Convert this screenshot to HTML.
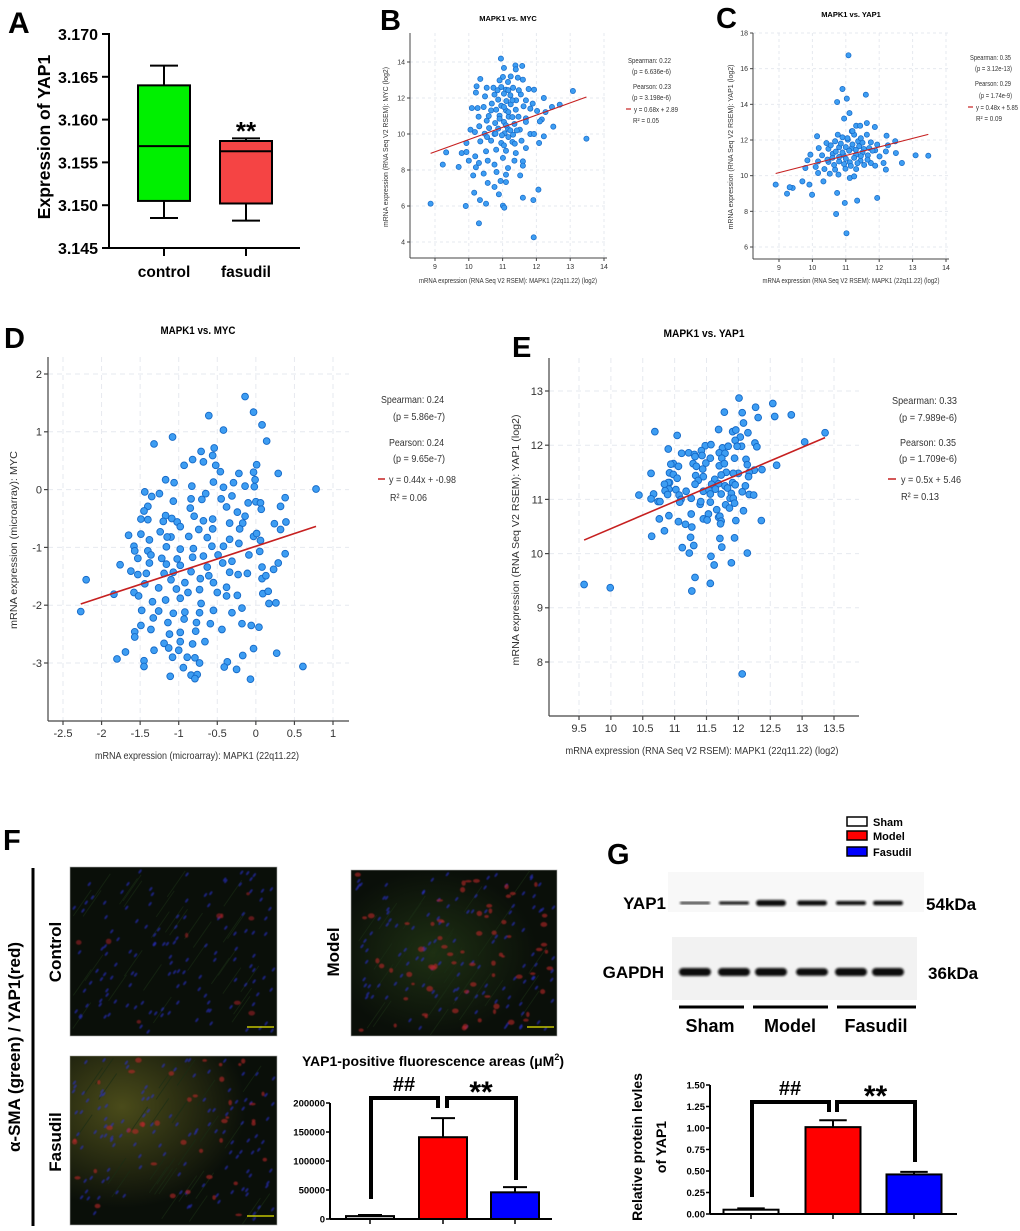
<!DOCTYPE html>
<html><head><meta charset="utf-8"><title>MAPK1 / YAP1 figure</title>
<style>
html,body{margin:0;padding:0;background:#fff;}
svg{display:block;font-family:"Liberation Sans",Arial,sans-serif;}
.b{font-weight:bold;}
</style></head>
<body>
<svg id="fig" width="1020" height="1231" viewBox="0 0 1020 1231" xmlns="http://www.w3.org/2000/svg">
<defs>
<filter id="blur1" x="-20%" y="-50%" width="140%" height="200%"><feGaussianBlur stdDeviation="1.1"/></filter>
<filter id="blur2" x="-20%" y="-20%" width="140%" height="140%"><feGaussianBlur stdDeviation="0.6"/></filter>
<radialGradient id="fasGlow" cx="0.25" cy="0.3" r="0.6"><stop offset="0" stop-color="#5a5a1e" stop-opacity="0.8"/><stop offset="1" stop-color="#5a5a1e" stop-opacity="0"/></radialGradient>
<radialGradient id="modGlow" cx="0.4" cy="0.5" r="0.5"><stop offset="0" stop-color="#263d17" stop-opacity="0.7"/><stop offset="1" stop-color="#263d17" stop-opacity="0"/></radialGradient>
</defs>

<!-- ===== Panel A ===== -->
<g>
<text x="8" y="33" class="b" font-size="30">A</text>
<line x1="109" y1="33" x2="109" y2="248" stroke="#000" stroke-width="2"/>
<line x1="108" y1="248" x2="300" y2="248" stroke="#000" stroke-width="2"/>
<g id="aTicks"></g>
<line x1="164" y1="248" x2="164" y2="256" stroke="#000" stroke-width="2"/>
<line x1="246" y1="248" x2="246" y2="256" stroke="#000" stroke-width="2"/>
<text x="164" y="277" class="b" font-size="15.5" text-anchor="middle">control</text>
<text x="246" y="277" class="b" font-size="15.5" text-anchor="middle">fasudil</text>
<text transform="translate(50,137) rotate(-90)" class="b" font-size="17.5" text-anchor="middle">Expression of YAP1</text>
<g id="aBoxes"></g>
<text x="246" y="140" class="b" font-size="26" text-anchor="middle">**</text>
</g>

<!-- ===== Panel B ===== -->
<g>
<text x="380" y="30" class="b" font-size="29">B</text>
<text x="508" y="21" class="b" font-size="7.5" text-anchor="middle">MAPK1 vs. MYC</text>
<g id="bPlot"></g>
<text x="508" y="283" font-size="7" text-anchor="middle" textLength="178" lengthAdjust="spacingAndGlyphs" fill="#333">mRNA expression (RNA Seq V2 RSEM): MAPK1 (22q11.22) (log2)</text>
<text transform="translate(388,147) rotate(-90)" font-size="7" text-anchor="middle" textLength="160" lengthAdjust="spacingAndGlyphs" fill="#333">mRNA expression (RNA Seq V2 RSEM): MYC (log2)</text>
<g font-size="7.5" fill="#333">
<text x="628" y="63" textLength="43" lengthAdjust="spacingAndGlyphs">Spearman: 0.22</text><text x="632" y="74" textLength="39" lengthAdjust="spacingAndGlyphs">(p = 6.636e-6)</text>
<text x="633" y="89" textLength="38" lengthAdjust="spacingAndGlyphs">Pearson: 0.23</text><text x="632" y="100" textLength="39" lengthAdjust="spacingAndGlyphs">(p = 3.198e-6)</text>
<line x1="626" y1="109" x2="631" y2="109" stroke="#c62020" stroke-width="1.2"/>
<text x="634" y="112" textLength="44" lengthAdjust="spacingAndGlyphs">y = 0.68x + 2.89</text><text x="633" y="123" textLength="26" lengthAdjust="spacingAndGlyphs">R² = 0.05</text>
</g>
</g>

<!-- ===== Panel C ===== -->
<g>
<text x="716" y="28" class="b" font-size="29">C</text>
<text x="851" y="17" class="b" font-size="7.5" text-anchor="middle">MAPK1 vs. YAP1</text>
<g id="cPlot"></g>
<text x="851" y="283" font-size="7" text-anchor="middle" textLength="177" lengthAdjust="spacingAndGlyphs" fill="#333">mRNA expression (RNA Seq V2 RSEM): MAPK1 (22q11.22) (log2)</text>
<text transform="translate(733,147) rotate(-90)" font-size="7" text-anchor="middle" textLength="165" lengthAdjust="spacingAndGlyphs" fill="#333">mRNA expression (RNA Seq V2 RSEM): YAP1 (log2)</text>
<g font-size="7.5" fill="#333">
<text x="970" y="60" textLength="41" lengthAdjust="spacingAndGlyphs">Spearman: 0.35</text><text x="975" y="71" textLength="37" lengthAdjust="spacingAndGlyphs">(p = 3.12e-13)</text>
<text x="975" y="86" textLength="36" lengthAdjust="spacingAndGlyphs">Pearson: 0.29</text><text x="979" y="98" textLength="33" lengthAdjust="spacingAndGlyphs">(p = 1.74e-9)</text>
<line x1="968" y1="107" x2="973" y2="107" stroke="#c62020" stroke-width="1.2"/>
<text x="976" y="110" textLength="42" lengthAdjust="spacingAndGlyphs">y = 0.48x + 5.85</text><text x="976" y="121" textLength="26" lengthAdjust="spacingAndGlyphs">R² = 0.09</text>
</g>
</g>

<!-- ===== Panel D ===== -->
<g>
<text x="4" y="348" class="b" font-size="29">D</text>
<text x="198" y="334" class="b" font-size="11" text-anchor="middle" textLength="75" lengthAdjust="spacingAndGlyphs">MAPK1 vs. MYC</text>
<g id="dPlot"></g>
<text x="197" y="759" font-size="10.5" text-anchor="middle" textLength="204" lengthAdjust="spacingAndGlyphs" fill="#333">mRNA expression (microarray): MAPK1 (22q11.22)</text>
<text transform="translate(17,540) rotate(-90)" font-size="10.5" text-anchor="middle" textLength="178" lengthAdjust="spacingAndGlyphs" fill="#333">mRNA expression (microarray): MYC</text>
<g font-size="10.5" fill="#333">
<text x="381" y="403" textLength="63" lengthAdjust="spacingAndGlyphs">Spearman: 0.24</text><text x="393" y="420" textLength="52" lengthAdjust="spacingAndGlyphs">(p = 5.86e-7)</text>
<text x="389" y="446" textLength="55" lengthAdjust="spacingAndGlyphs">Pearson: 0.24</text><text x="393" y="462" textLength="52" lengthAdjust="spacingAndGlyphs">(p = 9.65e-7)</text>
<line x1="378" y1="479" x2="385" y2="479" stroke="#c62020" stroke-width="1.5"/>
<text x="389" y="483" textLength="67" lengthAdjust="spacingAndGlyphs">y = 0.44x + -0.98</text><text x="390" y="501" textLength="37" lengthAdjust="spacingAndGlyphs">R² = 0.06</text>
</g>
</g>

<!-- ===== Panel E ===== -->
<g>
<text x="512" y="357" class="b" font-size="29">E</text>
<text x="704" y="337" class="b" font-size="11" text-anchor="middle" textLength="81" lengthAdjust="spacingAndGlyphs">MAPK1 vs. YAP1</text>
<g id="ePlot"></g>
<text x="702" y="754" font-size="10.5" text-anchor="middle" textLength="273" lengthAdjust="spacingAndGlyphs" fill="#333">mRNA expression (RNA Seq V2 RSEM): MAPK1 (22q11.22) (log2)</text>
<text transform="translate(519,540) rotate(-90)" font-size="10.5" text-anchor="middle" textLength="251" lengthAdjust="spacingAndGlyphs" fill="#333">mRNA expression (RNA Seq V2 RSEM): YAP1 (log2)</text>
<g font-size="10.5" fill="#333">
<text x="892" y="404" textLength="65" lengthAdjust="spacingAndGlyphs">Spearman: 0.33</text><text x="899" y="421" textLength="58" lengthAdjust="spacingAndGlyphs">(p = 7.989e-6)</text>
<text x="900" y="446" textLength="56" lengthAdjust="spacingAndGlyphs">Pearson: 0.35</text><text x="899" y="462" textLength="58" lengthAdjust="spacingAndGlyphs">(p = 1.709e-6)</text>
<line x1="888" y1="479" x2="896" y2="479" stroke="#c62020" stroke-width="1.5"/>
<text x="901" y="483" textLength="60" lengthAdjust="spacingAndGlyphs">y = 0.5x + 5.46</text><text x="901" y="500" textLength="38" lengthAdjust="spacingAndGlyphs">R² = 0.13</text>
</g>
</g>

<!-- ===== Panel F ===== -->
<g>
<text x="3" y="850" class="b" font-size="29">F</text>
<line x1="33" y1="868" x2="33" y2="1226" stroke="#000" stroke-width="3"/>
<text transform="translate(20,1047) rotate(-90)" class="b" font-size="17" text-anchor="middle">α-SMA (green) / YAP1(red)</text>
<text transform="translate(61,952) rotate(-90)" class="b" font-size="17" text-anchor="middle">Control</text>
<text transform="translate(339,952) rotate(-90)" class="b" font-size="17" text-anchor="middle">Model</text>
<text transform="translate(61,1142) rotate(-90)" class="b" font-size="17" text-anchor="middle">Fasudil</text>
<g id="imgControl"></g>
<g id="imgModel"></g>
<g id="imgFasudil"></g>
<text x="433" y="1066" class="b" font-size="14" text-anchor="middle">YAP1-positive fluorescence areas (μM<tspan dy="-6" font-size="9">2</tspan><tspan dy="6">)</tspan></text>
<g id="fChart"></g>
</g>

<!-- ===== Panel G ===== -->
<g>
<text x="607" y="864" class="b" font-size="29">G</text>
<g font-size="11" class="b">
<rect x="847" y="817" width="20" height="9" fill="#fff" stroke="#000" stroke-width="1.5"/>
<text x="873" y="826">Sham</text>
<rect x="847" y="831" width="20" height="9" fill="#ff0000" stroke="#000" stroke-width="1.5"/>
<text x="873" y="840">Model</text>
<rect x="847" y="847" width="20" height="9" fill="#0000ff" stroke="#000" stroke-width="1.5"/>
<text x="873" y="856">Fasudil</text>
</g>
<rect x="668" y="872" width="256" height="40" fill="#f8f8f8"/>
<rect x="672" y="937" width="245" height="63" fill="#f2f2f2"/>
<text x="666" y="909" class="b" font-size="17" text-anchor="end">YAP1</text>
<text x="664" y="978" class="b" font-size="17" text-anchor="end">GAPDH</text>
<text x="926" y="910" class="b" font-size="17">54kDa</text>
<text x="928" y="979" class="b" font-size="17">36kDa</text>
<g id="blot"></g>
<g stroke="#000" stroke-width="3">
<line x1="679" y1="1007" x2="744" y2="1007"/><line x1="753" y1="1007" x2="828" y2="1007"/><line x1="837" y1="1007" x2="916" y2="1007"/>
</g>
<text x="710" y="1032" class="b" font-size="18" text-anchor="middle">Sham</text>
<text x="790" y="1032" class="b" font-size="18" text-anchor="middle">Model</text>
<text x="876" y="1032" class="b" font-size="18" text-anchor="middle">Fasudil</text>
<text transform="translate(642,1147) rotate(-90)" class="b" font-size="14" text-anchor="middle">Relative protein levles</text>
<text transform="translate(666,1147) rotate(-90)" class="b" font-size="14" text-anchor="middle">of YAP1</text>
<g id="gChart"></g>
</g>
</svg>

<script>
// ---------- data ----------
const aGroups = ["control","fasudil"];
const aMin = [3.1485, 3.1482];
const aQ1 = [3.1505, 3.1502];
const aMed = [3.1569, 3.1563];
const aQ3 = [3.1640, 3.1575];
const aMax = [3.1663, 3.1578];
const aTicks = [3.145,3.150,3.155,3.160,3.165,3.170];
const aColors = ["#00f000","#f54444"];

const bX = [10.95,11.38,11.58,11.04,11.39,10.34,11.01,11.24,11.45,10.91,11.16,11.60,10.23,10.53,10.73,10.96,11.10,11.31,11.77,11.93,10.21,10.76,11.04,11.23,11.54,10.48,13.08,12.69,12.22,10.87,
11.11,11.40,11.69,10.68,10.96,11.24,11.62,11.89,10.09,10.26,10.44,10.81,11.10,11.39,11.82,12.02,12.46,12.27,10.29,10.59,10.91,11.18,11.47,11.69,12.16,10.53,10.78,11.04,11.35,11.69,
12.10,10.31,10.60,10.87,11.16,11.51,12.50,10.05,10.18,10.47,10.76,11.06,11.31,11.82,11.93,13.48,12.22,9.93,10.34,10.66,10.96,11.29,11.56,12.08,9.79,9.93,10.19,10.51,10.81,11.10,
11.39,11.69,9.33,10.00,10.30,10.56,11.01,11.35,11.60,9.23,9.70,10.21,10.76,11.16,11.60,10.44,10.13,10.82,11.10,11.52,10.56,10.94,11.10,10.76,12.06,10.16,10.89,11.60,10.33,11.91,
10.51,8.87,9.91,11.01,11.05,10.30,11.92,11.04,11.17,11.29,10.91,11.10,11.23,10.98,11.17,11.36,11.04,10.66,10.79,10.54,11.42,11.29,11.48,11.17,10.85];
const bY = [14.19,13.81,13.78,13.67,13.59,13.06,13.17,13.20,13.13,12.98,12.89,13.02,12.65,12.57,12.57,12.61,12.46,12.57,12.50,12.46,12.30,12.19,12.24,12.15,12.20,12.09,12.39,11.63,12.00,11.91,
11.83,11.87,11.87,11.69,11.57,11.65,11.54,11.69,11.44,11.44,11.50,11.35,11.31,11.35,11.41,11.28,11.50,11.22,10.96,11.00,11.02,10.96,10.96,10.87,10.81,10.74,10.61,10.67,10.56,10.67,
10.70,10.43,10.33,10.30,10.28,10.24,10.41,10.24,10.11,10.02,10.00,10.04,9.96,10.00,10.00,9.74,9.87,9.50,9.59,9.63,9.50,9.56,9.63,9.50,8.94,9.00,8.76,9.04,9.13,9.07,
8.94,9.22,8.98,8.52,8.39,8.52,8.67,8.52,8.48,8.30,8.17,8.15,8.30,8.11,8.24,7.80,7.70,7.89,7.74,7.70,7.28,7.39,7.33,7.06,6.91,6.74,6.65,6.46,6.33,6.33,
6.13,6.13,6.00,6.02,5.91,5.04,4.26,11.50,11.22,10.94,10.85,10.48,10.20,9.93,9.83,9.46,9.37,11.31,10.02,9.83,10.20,11.87,12.43,12.43,12.43];
const bFit = [0.68, 2.89];
const bXTicks = [9,10,11,12,13,14];
const bYTicks = [4,6,8,10,12,14];

const cX = [11.08,10.90,11.03,11.60,10.74,11.11,10.95,11.63,11.31,11.43,11.87,10.76,10.14,11.18,11.63,12.22,12.48,10.42,10.68,11.06,11.37,11.75,11.94,12.26,10.19,10.48,10.80,11.18,11.54,11.88,
12.20,9.94,10.29,10.61,10.93,11.31,11.66,12.01,12.50,13.09,13.47,9.85,10.17,10.48,10.80,11.12,11.44,11.75,12.13,12.68,9.79,10.10,10.36,10.68,10.99,11.31,11.88,12.20,10.17,10.52,
10.78,11.12,11.25,9.70,10.33,9.41,9.91,8.90,9.32,9.24,9.99,10.74,11.94,11.34,10.97,10.71,11.02,
10.55,10.85,11.0,11.2,11.4,11.5,11.7,10.7,10.9,11.1,11.3,11.5,11.8,10.6,10.8,11.0,11.25,11.45,11.65,10.45,10.65,10.95,11.15,11.35,11.55,11.05,11.25,11.45,10.9,11.2];
const cY = [16.75,14.86,14.32,14.54,14.13,13.51,13.20,12.95,12.80,12.80,12.73,12.30,12.21,12.49,12.30,12.24,11.93,11.83,11.93,12.02,11.93,11.87,11.74,11.70,11.55,11.51,11.59,11.55,11.50,11.42,
11.36,11.18,11.14,11.23,11.16,11.18,11.14,11.08,11.27,11.14,11.12,10.86,10.80,10.77,10.80,10.75,10.84,10.71,10.71,10.71,10.43,10.49,10.37,10.34,10.39,10.37,10.56,10.34,10.15,10.11,
10.06,9.87,9.96,9.68,9.68,9.31,9.50,9.50,9.35,8.99,8.93,9.03,8.75,8.60,8.47,7.85,6.77,
11.7,11.8,11.6,11.75,11.65,11.85,11.55,11.35,11.3,11.4,11.45,11.3,11.4,11.0,11.05,10.95,11.0,11.1,10.9,10.9,10.6,10.65,10.55,10.7,10.6,12.1,12.3,12.1,12.15,12.5];
const cFit = [0.48, 5.85];
const cXTicks = [9,10,11,12,13,14];
const cYTicks = [6,8,10,12,14,16,18];

const dX = [-0.14,-0.03,-0.61,0.08,-0.42,-1.08,-1.32,0.14,-0.54,-0.71,-0.56,-0.82,-0.68,-0.93,-0.52,0.01,-0.46,-0.22,-0.03,0.29,-0.01,-1.17,-1.06,-0.55,-0.29,-0.83,-0.42,-0.14,-0.02,0.78,
-1.44,-1.25,-1.35,-0.65,0.38,-0.31,-1.07,-0.84,-0.70,-0.45,-0.10,0,0.06,0.32,-1.40,-1.45,-0.85,-0.38,0.07,-0.24,-1.17,-0.80,-0.14,-1.49,-1.40,-1.09,-0.56,0.39,-1.20,-1.02,
-0.68,-0.34,0.24,-0.17,-1.24,-0.98,-0.74,-0.56,-0.21,0.32,-1.65,-1.49,-1.38,-1.10,-0.87,-0.63,-0.34,-0.03,0.01,-1.15,-1.58,-1.57,-1.40,-1.16,-0.98,-0.81,-0.57,-0.42,-0.22,0.06,
-1.53,-1.36,-1.22,-1.02,-0.82,-0.68,-0.49,-0.31,-0.09,0.05,0.38,-1.76,-1.38,-1.16,-0.98,-0.63,-0.43,0.08,0.29,-1.62,-1.53,-1.42,-1.19,-1.07,-0.84,-0.61,-0.34,-0.23,-0.11,0.23,
-2.20,-1.44,-1.10,-0.92,-0.72,-0.55,0.08,0.13,-1.84,-1.58,-1.26,-1.03,-0.88,-0.73,-0.50,-0.38,0.09,0.16,-1.52,-1.34,-1.17,-0.98,-0.71,-0.38,-0.24,0.17,0.26,-2.27,-1.48,-1.26,
-1.07,-0.92,-0.73,-0.55,-0.31,-0.18,-1.33,-1.14,-0.93,-0.77,-0.59,-0.44,-0.18,-0.06,0.04,-1.49,-1.57,-1.36,-1.12,-0.98,-0.78,-1.57,-0.98,-0.66,-1.19,-0.82,-1.13,-1.00,-0.03,-1.69,
-1.32,0.27,-1.80,-1.08,-0.89,-0.79,-0.17,-1.45,-0.73,-0.37,-1.45,-0.41,0.61,-0.94,-0.25,-1.11,-0.84,-0.76,-0.79,-0.07];
const dY = [1.61,1.34,1.28,1.12,1.03,0.91,0.79,0.84,0.72,0.66,0.59,0.52,0.48,0.42,0.42,0.43,0.31,0.28,0.30,0.28,0.17,0.17,0.12,0.13,0.12,0.06,0.04,0.06,0.05,0.01,
-0.04,-0.07,-0.12,-0.07,-0.14,-0.11,-0.20,-0.16,-0.17,-0.16,-0.23,-0.21,-0.23,-0.29,-0.29,-0.37,-0.32,-0.30,-0.34,-0.39,-0.45,-0.46,-0.46,-0.51,-0.52,-0.50,-0.51,-0.56,-0.55,-0.56,
-0.54,-0.58,-0.59,-0.58,-0.73,-0.64,-0.69,-0.68,-0.68,-0.69,-0.79,-0.77,-0.87,-0.82,-0.81,-0.83,-0.86,-0.81,-0.76,-0.82,-0.98,-1.06,-1.06,-0.99,-1.03,-1.02,-0.98,-0.98,-0.93,-0.88,
-1.19,-1.13,-1.19,-1.20,-1.17,-1.15,-1.13,-1.24,-1.13,-1.07,-1.11,-1.30,-1.27,-1.29,-1.31,-1.34,-1.27,-1.34,-1.27,-1.41,-1.47,-1.45,-1.45,-1.43,-1.42,-1.49,-1.43,-1.47,-1.45,-1.38,
-1.56,-1.63,-1.56,-1.61,-1.54,-1.61,-1.54,-1.49,-1.81,-1.78,-1.70,-1.72,-1.78,-1.73,-1.78,-1.69,-1.80,-1.76,-1.84,-1.94,-1.91,-1.88,-1.97,-1.84,-1.83,-1.97,-1.96,-2.11,-2.09,-2.10,
-2.14,-2.12,-2.13,-2.09,-2.13,-2.05,-2.22,-2.30,-2.24,-2.30,-2.32,-2.42,-2.32,-2.35,-2.38,-2.35,-2.46,-2.42,-2.50,-2.47,-2.45,-2.55,-2.63,-2.63,-2.66,-2.67,-2.74,-2.78,-2.75,-2.81,
-2.78,-2.83,-2.93,-2.90,-2.90,-2.91,-2.87,-2.96,-3.00,-2.98,-3.06,-3.07,-3.06,-3.08,-3.11,-3.23,-3.21,-3.20,-3.27,-3.28];
const dFit = [0.44, -0.98];
const dXTicks = [-2.5,-2,-1.5,-1,-0.5,0,0.5,1];
const dYTicks = [-3,-2,-1,0,1,2];

const eX = [9.58,9.99,12.06,12.01,12.54,12.27,11.78,12.06,12.83,12.57,12.31,12.08,11.69,10.69,11.91,11.96,12.15,13.36,11.04,12.03,11.95,13.04,12.26,11.48,11.57,12.05,12.29,11.98,10.90,11.75,
11.84,11.42,11.11,11.22,11.31,11.43,11.70,11.79,11.32,11.56,11.74,11.94,12.12,10.98,10.94,11.29,11.49,11.70,11.78,12.14,12.60,11.34,11.06,11.44,12.25,12.37,12.17,12.00,11.92,10.63,
10.92,10.98,11.81,11.73,11.33,11.45,12.16,11.04,11.63,11.37,10.92,11.32,10.90,10.84,11.58,11.69,11.91,12.11,11.79,10.91,10.85,11.02,11.18,11.45,11.54,11.64,11.83,11.95,11.73,11.89,
12.06,10.44,10.67,10.89,11.07,11.56,12.17,12.24,10.63,11.10,11.26,11.87,11.92,10.74,10.77,11.08,11.56,11.40,11.94,11.41,11.80,11.86,11.66,12.08,11.26,11.53,11.69,11.71,10.91,10.76,
11.45,11.51,11.73,11.96,12.36,11.06,11.17,11.72,11.27,10.84,10.64,11.25,11.71,11.94,11.30,11.12,11.74,11.23,12.14,11.57,11.62,11.89,11.32,11.56,11.27];
const eY = [9.43,9.37,7.78,12.87,12.77,12.70,12.61,12.60,12.56,12.53,12.51,12.41,12.29,12.25,12.25,12.28,12.23,12.23,12.18,12.15,12.09,12.06,12.04,11.99,12.01,11.98,11.97,11.98,11.93,11.95,
11.98,11.90,11.85,11.86,11.83,11.81,11.86,11.85,11.79,11.76,11.76,11.76,11.74,11.66,11.65,11.66,11.67,11.62,11.66,11.64,11.63,11.61,11.61,11.56,11.54,11.55,11.50,11.48,11.48,11.48,
11.49,11.46,11.50,11.45,11.44,11.42,11.42,11.39,11.37,11.35,11.31,11.28,11.31,11.28,11.28,11.29,11.31,11.25,11.25,11.19,11.16,11.18,11.15,11.15,11.17,11.19,11.21,11.27,11.10,11.11,
11.14,11.08,11.10,11.09,11.08,11.10,11.09,11.08,11.01,11.00,11.02,11.02,11.02,10.96,10.96,10.95,10.95,10.91,10.93,10.96,10.90,10.84,10.81,10.79,10.73,10.73,10.67,10.69,10.70,10.64,
10.64,10.62,10.60,10.61,10.61,10.59,10.54,10.55,10.49,10.42,10.32,10.30,10.28,10.29,10.15,10.11,10.12,10.01,10.01,9.95,9.79,9.83,9.56,9.45,9.31];
const eFit = [0.5, 5.46];
const eXTicks = [9.5,10,10.5,11,11.5,12,12.5,13,13.5];
const eYTicks = [8,9,10,11,12,13];

const fGroups = ["Sham","Model","Fasudil"];
const fValues = [5000, 141000, 46000];
const fErrors = [7000, 174000, 55000];
const fTicks = [0, 50000, 100000, 150000, 200000];
const gValues = [0.05, 1.01, 0.46];
const gErrors = [0.065, 1.09, 0.49];
const gTicks = ["0.00","0.25","0.50","0.75","1.00","1.25","1.50"];
const barColors = ["#ffffff","#ff0000","#0000ff"];
const fBarColors = ["#d8d8d8","#ff0000","#0000ff"];
const blotYap1 = [2, 3, 6, 5, 4, 4.5];
const blotGapdh = [8, 8, 8, 7.5, 8, 8];

// ---------- helpers ----------
const NS = "http://www.w3.org/2000/svg";
function mk(tag, parent, attrs){
  const e = document.createElementNS(NS, tag);
  for (const k in attrs) e.setAttribute(k, attrs[k]);
  parent.appendChild(e);
  return e;
}
function lin(d0,d1,r0,r1){ return v => r0 + (v-d0)/(d1-d0)*(r1-r0); }

// ---------- Panel A ----------
(function(){
  const y = lin(3.145, 3.170, 248, 34);
  const xs = [164, 246];
  const tg = document.getElementById('aTicks');
  aTicks.forEach(t => {
    const l = mk('line', tg, {x1:102, x2:109, y1:y(t), y2:y(t), stroke:'#000','stroke-width':2});
    
    
    const tx = mk('text', tg, {x:98, y:y(t)+6, 'text-anchor':'end','font-size':16,'font-weight':'bold'});
    tx.textContent = t.toFixed(3);
    
    
  });
  const g = document.getElementById('aBoxes');
  aGroups.forEach((name,i) => {
    const cx = xs[i], hw = 26, cw = 14;
    const gg = mk('g', g, {stroke:'#000','stroke-width':2});
    
    
    mk('line', gg, {x1:cx, x2:cx, y1:y(aMax[i]), y2:y(aQ3[i])});
    mk('line', gg, {x1:cx, x2:cx, y1:y(aQ1[i]), y2:y(aMin[i])});
    mk('line', gg, {x1:cx-cw, x2:cx+cw, y1:y(aMax[i]), y2:y(aMax[i])});
    mk('line', gg, {x1:cx-cw, x2:cx+cw, y1:y(aMin[i]), y2:y(aMin[i])});
    mk('rect', gg, {x:cx-hw, y:y(aQ3[i]), width:2*hw, height:y(aQ1[i])-y(aQ3[i]), fill:aColors[i]});
    mk('line', gg, {x1:cx-hw, x2:cx+hw, y1:y(aMed[i]), y2:y(aMed[i])});
  });
})();

// ---------- scatter panels ----------
function scatterPanel(o){
  const root = document.getElementById(o.id);
  const x = lin(o.xd[0], o.xd[1], o.xr[0], o.xr[1]);
  const y = lin(o.yd[0], o.yd[1], o.yr[0], o.yr[1]);
  const grid = mk('g', root, {stroke:'#e6e9ef','stroke-width':1,'stroke-dasharray':o.dash});
  
  
  o.xt.forEach(t => mk('line', grid, {x1:x(t), x2:x(t), y1:o.top, y2:o.bottom}));
  o.yt.forEach(t => mk('line', grid, {x1:o.left, x2:o.right, y1:y(t), y2:y(t)}));
  const ax = mk('g', root, {stroke:'#444','stroke-width':o.aw});
  
  
  mk('line', ax, {x1:o.left, x2:o.left, y1:o.top, y2:o.bottom});
  mk('line', ax, {x1:o.left, x2:o.right, y1:o.bottom, y2:o.bottom});
  o.xt.forEach(t => {
    mk('line', ax, {x1:x(t), x2:x(t), y1:o.bottom, y2:o.bottom+o.tl});
    const tx = mk('text', root, {x:x(t), y:o.bottom+o.tl+o.fs+1, 'text-anchor':'middle','font-size':o.fs, fill:'#333'});
    tx.textContent = String(t);
    
    
  });
  o.yt.forEach(t => {
    mk('line', ax, {x1:o.left-o.tl, x2:o.left, y1:y(t), y2:y(t)});
    const tx = mk('text', root, {x:o.left-o.tl-2, y:y(t)+o.fs*0.35, 'text-anchor':'end','font-size':o.fs, fill:'#333'});
    tx.textContent = String(t);
    
    
  });
  const pts = mk('g', root, {fill:'#3d9df2', stroke:'#1569c7','stroke-width':o.sw});
  
  
  for (let i=0;i<o.xs.length;i++){
    const c = mk('circle', pts, {cx:x(o.xs[i]), cy:y(o.ys[i]), r:o.r});
    
    
  }
  const f0 = Math.min(...o.xs), f1 = Math.max(...o.xs);
  const fl = mk('line', root, {x1:x(f0), y1:y(o.fit[0]*f0+o.fit[1]), x2:x(f1), y2:y(o.fit[0]*f1+o.fit[1]), stroke:'#c62020','stroke-width':o.lw});
  
  
}
scatterPanel({id:'bPlot', name:'b', xs:bX, ys:bY, fit:bFit, xt:bXTicks, yt:bYTicks,
  xd:[9,14], xr:[435,604], yd:[4,14], yr:[242,62], left:410, right:607, top:33, bottom:258,
  r:2.6, sw:0.7, lw:1.1, fs:7, tl:3, aw:1, dash:'3,3'});
scatterPanel({id:'cPlot', name:'c', xs:cX, ys:cY, fit:cFit, xt:cXTicks, yt:cYTicks,
  xd:[9,14], xr:[779,946], yd:[6,18], yr:[247,33], left:753, right:949, top:33, bottom:259,
  r:2.6, sw:0.7, lw:1.1, fs:7, tl:3, aw:1, dash:'3,3'});
scatterPanel({id:'dPlot', name:'d', xs:dX, ys:dY, fit:dFit, xt:dXTicks, yt:dYTicks,
  xd:[-2.5,1], xr:[63,333], yd:[-3,2], yr:[663,374], left:48, right:349, top:357, bottom:721,
  r:3.4, sw:0.9, lw:1.6, fs:11, tl:4, aw:1.2, dash:'5,4'});
scatterPanel({id:'ePlot', name:'e', xs:eX, ys:eY, fit:eFit, xt:eXTicks, yt:eYTicks,
  xd:[9.5,13.5], xr:[579,834], yd:[8,13], yr:[662,391], left:549, right:859, top:358, bottom:716,
  r:3.4, sw:0.9, lw:1.6, fs:11, tl:4, aw:1.2, dash:'5,4'});

// ---------- micrographs (decorative texture) ----------
function micro(id, x0, y0, w, h, nBlue, nRed, glow, seed, redOp){
  const g = document.getElementById(id);
  let s = seed;
  const rnd = () => { s = (s*1103515245 + 12345) % 2147483648; return s/2147483648; };
  mk('rect', g, {x:x0, y:y0, width:w, height:h, fill:'#0a0f09', stroke:'#aaa','stroke-width':0.6});
  if (glow) mk('rect', g, {x:x0, y:y0, width:w, height:h, fill:'url(#'+glow+')'});
  const streak = mk('g', g, {stroke:'#1a2d15','stroke-width':1, opacity:0.6});
  for (let i=0;i<30;i++){
    const px = x0+rnd()*(w-18), py = y0+26+rnd()*(h-26);
    mk('line', streak, {x1:px, y1:py, x2:px+18, y2:py-26});
  }
  const tex = mk('g', g, {filter:'url(#blur2)'});
  for (let i=0;i<nBlue;i++){
    const px = x0+3+rnd()*(w-6), py = y0+3+rnd()*(h-6);
    mk('ellipse', tex, {cx:px, cy:py, rx:2.4, ry:1.1, fill:'#2a2fc8', opacity:0.6, transform:'rotate(-55 '+px+' '+py+')'});
  }
  for (let i=0;i<nRed;i++){
    const px = x0+4+rnd()*(w-8), py = y0+4+rnd()*(h-8);
    mk('ellipse', tex, {cx:px, cy:py, rx:1.5+rnd()*2, ry:1.2+rnd()*1.6, fill:'#b8242a', opacity:redOp});
  }
  mk('line', g, {x1:x0+w-30, x2:x0+w-3, y1:y0+h-9, y2:y0+h-9, stroke:'#e6e600','stroke-width':1.2});
}
micro('imgControl', 70, 867, 207, 169, 130, 10, null, 11, 0.5);
micro('imgModel', 351, 870, 206, 166, 120, 70, 'modGlow', 29, 0.6);
micro('imgFasudil', 70, 1056, 207, 169, 120, 40, 'fasGlow', 47, 0.6);

// ---------- bar charts ----------
function barChart(o){
  const g = document.getElementById(o.id);
  const y = lin(0, o.max, o.base, o.topv);
  mk('line', g, {x1:o.axisX, x2:o.axisX, y1:o.topv, y2:o.base, stroke:'#000','stroke-width':2});
  mk('line', g, {x1:o.axisX, x2:o.right, y1:o.base, y2:o.base, stroke:'#000','stroke-width':2});
  o.ticks.forEach(t => {
    const v = parseFloat(t);
    mk('line', g, {x1:o.axisX-4, x2:o.axisX, y1:y(v), y2:y(v), stroke:'#000','stroke-width':1.5});
    const tx = mk('text', g, {x:o.axisX-5, y:y(v)+3.5, 'text-anchor':'end','font-size':o.fs,'font-weight':'bold'});
    tx.textContent = String(t);
    
    
  });
  o.values.forEach((v,i) => {
    const cx = o.cx[i];
    mk('line', g, {x1:cx, x2:cx, y1:o.base, y2:o.base+5, stroke:'#000','stroke-width':1.5});
    mk('line', g, {x1:cx, x2:cx, y1:y(v), y2:y(o.errors[i]), stroke:'#000','stroke-width':2});
    mk('line', g, {x1:cx-o.bw*0.25, x2:cx+o.bw*0.25, y1:y(o.errors[i]), y2:y(o.errors[i]), stroke:'#000','stroke-width':2});
    const r = mk('rect', g, {x:cx-o.bw/2, y:y(v), width:o.bw, height:o.base-y(v), fill:o.colors[i], stroke:'#000','stroke-width':2});
    
    
  });
  const br = mk('g', g, {stroke:'#000','stroke-width':4, fill:'none'});
  
  
  mk('polyline', br, {points:[o.cx[0]+1,o.b1[0], o.cx[0]+1,o.bt, o.b1[1],o.bt, o.b1[1],o.bt+10].join(' ')});
  mk('polyline', br, {points:[o.b2[0],o.bt+10, o.b2[0],o.bt, o.cx[2]+1,o.bt, o.cx[2]+1,o.b2[1]].join(' ')});
  const t1 = mk('text', g, {x:(o.cx[0]+o.b1[1])/2, y:o.bt-7,'text-anchor':'middle','font-size':20,'font-weight':'bold'});
  t1.textContent = '##';
  
  
  const t2 = mk('text', g, {x:(o.b2[0]+o.cx[2])/2, y:o.bt+4,'text-anchor':'middle','font-size':30,'font-weight':'bold'});
  t2.textContent = '**';
  
  
}
barChart({id:'fChart', name:'f', values:fValues, errors:fErrors, ticks:fTicks, max:200000,
  base:1219, topv:1103, axisX:330, right:552, cx:[370,443,515], bw:48, colors:fBarColors, fs:9.5,
  bt:1098, b1:[1199,438], b2:[447,1180]});
barChart({id:'gChart', name:'g', values:gValues, errors:gErrors, ticks:gTicks, max:1.5,
  base:1214, topv:1085, axisX:710, right:957, cx:[751,833,914], bw:55, colors:barColors, fs:9.5,
  bt:1102, b1:[1197,829], b2:[837,1162]});

// ---------- western blot ----------
(function(){
  const g = document.getElementById('blot');
  const lanes = [695,734,771,812,851,888];
  lanes.forEach((cx,i) => {
    const b1 = mk('rect', g, {x:cx-15, y:903-blotYap1[i]/2, width:30, height:blotYap1[i], rx:blotYap1[i]/2, fill:'#111', filter:'url(#blur1)'});
    
    
    const b2 = mk('rect', g, {x:cx-16, y:972-blotGapdh[i]/2, width:32, height:blotGapdh[i], rx:4, fill:'#111', filter:'url(#blur1)'});
    
    
  });
})();
</script>
</body></html>
